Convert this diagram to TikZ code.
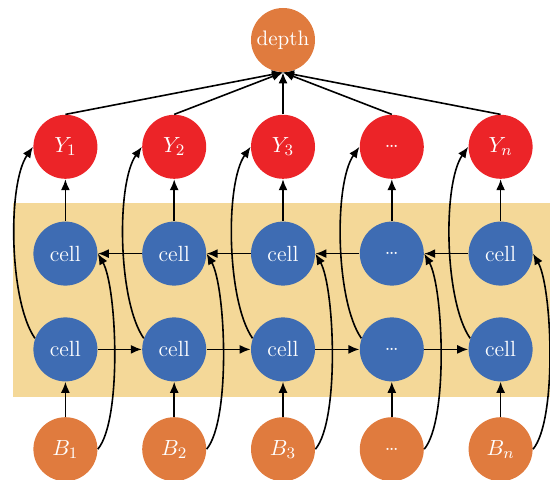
\documentclass[tikz,border=0pt]{standalone}
\usetikzlibrary{arrows.meta, positioning}

\definecolor{orangefill}{HTML}{E07B3E}
\definecolor{redfill}{HTML}{EC2428}
\definecolor{bluefill}{HTML}{3E6CB3}
\definecolor{bgyellow}{HTML}{F4D898}

\begin{document}
\begin{tikzpicture}[
node distance=21pt and 22pt,
circ/.style={circle, minimum size=32pt, inner sep=0pt, text=white, font=\fontsize{11}{13}\selectfont},
outnode/.style={circ, fill=orangefill},
ynode/.style={circ, fill=redfill},
cellnode/.style={circ, fill=bluefill},
innode/.style={circ, fill=orangefill},
arrow/.style={-{Latex[length=5.5pt,width=4.5pt]}, line width=0.8pt},
curvearrow/.style={arrow, looseness=0.6}
]

\useasboundingbox (0,0) rectangle (275pt,-240pt);
\fill[bgyellow] (6.5pt,-101.5pt) rectangle (275pt,-198.5pt);

\node[outnode, font=\fontsize{10.5}{12}\selectfont] (depth) at (141.5pt,-20pt) {depth};

% outputs
\node[ynode, below=of depth] (y3) {$Y_3$};
\node[ynode, left=of y3] (y2) {$Y_2$};
\node[ynode, left=of y2] (y1) {$Y_1$};
\node[ynode, right=of y3] (y4) {\dots};
\node[ynode, right=of y4] (y5) {$Y_n$};

% backward cells
\node[cellnode, below=of y1] (u1) {cell};
\node[cellnode, below=of y2] (u2) {cell};
\node[cellnode, below=of y3] (u3) {cell};
\node[cellnode, below=of y4] (u4) {\dots};
\node[cellnode, below=of y5] (u5) {cell};

% forward cells
\node[cellnode, below=15.5pt of u1] (d1) {cell};
\node[cellnode, below=15.5pt of u2] (d2) {cell};
\node[cellnode, below=15.5pt of u3] (d3) {cell};
\node[cellnode, below=15.5pt of u4] (d4) {\dots};
\node[cellnode, below=15.5pt of u5] (d5) {cell};

% inputs
\node[innode, below=17.5pt of d1] (b1) {$B_1$};
\node[innode, below=17.5pt of d2] (b2) {$B_2$};
\node[innode, below=17.5pt of d3] (b3) {$B_3$};
\node[innode, below=17.5pt of d4] (b4) {\dots};
\node[innode, below=17.5pt of d5] (b5) {$B_n$};

\draw[arrow] (y1.north) -- (depth.south);
\draw[arrow] (y2.north) -- (depth.south);
\draw[arrow] (y3.north) -- (depth.south);
\draw[arrow] (y4.north) -- (depth.south);
\draw[arrow] (y5.north) -- (depth.south);

\draw[arrow] (u1) -- (y1);
\draw[arrow] (u2) -- (y2);
\draw[arrow] (u3) -- (y3);
\draw[arrow] (u4) -- (y4);
\draw[arrow] (u5) -- (y5);

\draw[arrow] (b1) -- (d1);
\draw[arrow] (b2) -- (d2);
\draw[arrow] (b3) -- (d3);
\draw[arrow] (b4) -- (d4);
\draw[arrow] (b5) -- (d5);

\draw[arrow] (d1) -- (d2);
\draw[arrow] (d2) -- (d3);
\draw[arrow] (d3) -- (d4);
\draw[arrow] (d4) -- (d5);

\draw[arrow] (u5) -- (u4);
\draw[arrow] (u4) -- (u3);
\draw[arrow] (u3) -- (u2);
\draw[arrow] (u2) -- (u1);

\draw[curvearrow] (d1.160) to[out=125, in=235] (y1.west);
\draw[curvearrow] (d2.160) to[out=125, in=235] (y2.west);
\draw[curvearrow] (d3.160) to[out=125, in=235] (y3.west);
\draw[curvearrow] (d4.160) to[out=125, in=235] (y4.west);
\draw[curvearrow] (d5.160) to[out=125, in=235] (y5.west);

\draw[curvearrow, looseness=0.5] (b1.east) to[out=50, in=-60] (u1.east);
\draw[curvearrow, looseness=0.5] (b2.east) to[out=50, in=-60] (u2.east);
\draw[curvearrow, looseness=0.5] (b3.east) to[out=50, in=-60] (u3.east);
\draw[curvearrow, looseness=0.5] (b4.east) to[out=50, in=-60] (u4.east);
\draw[curvearrow, looseness=0.5] (b5.east) to[out=50, in=-60] (u5.east);

\end{tikzpicture}
\end{document}
